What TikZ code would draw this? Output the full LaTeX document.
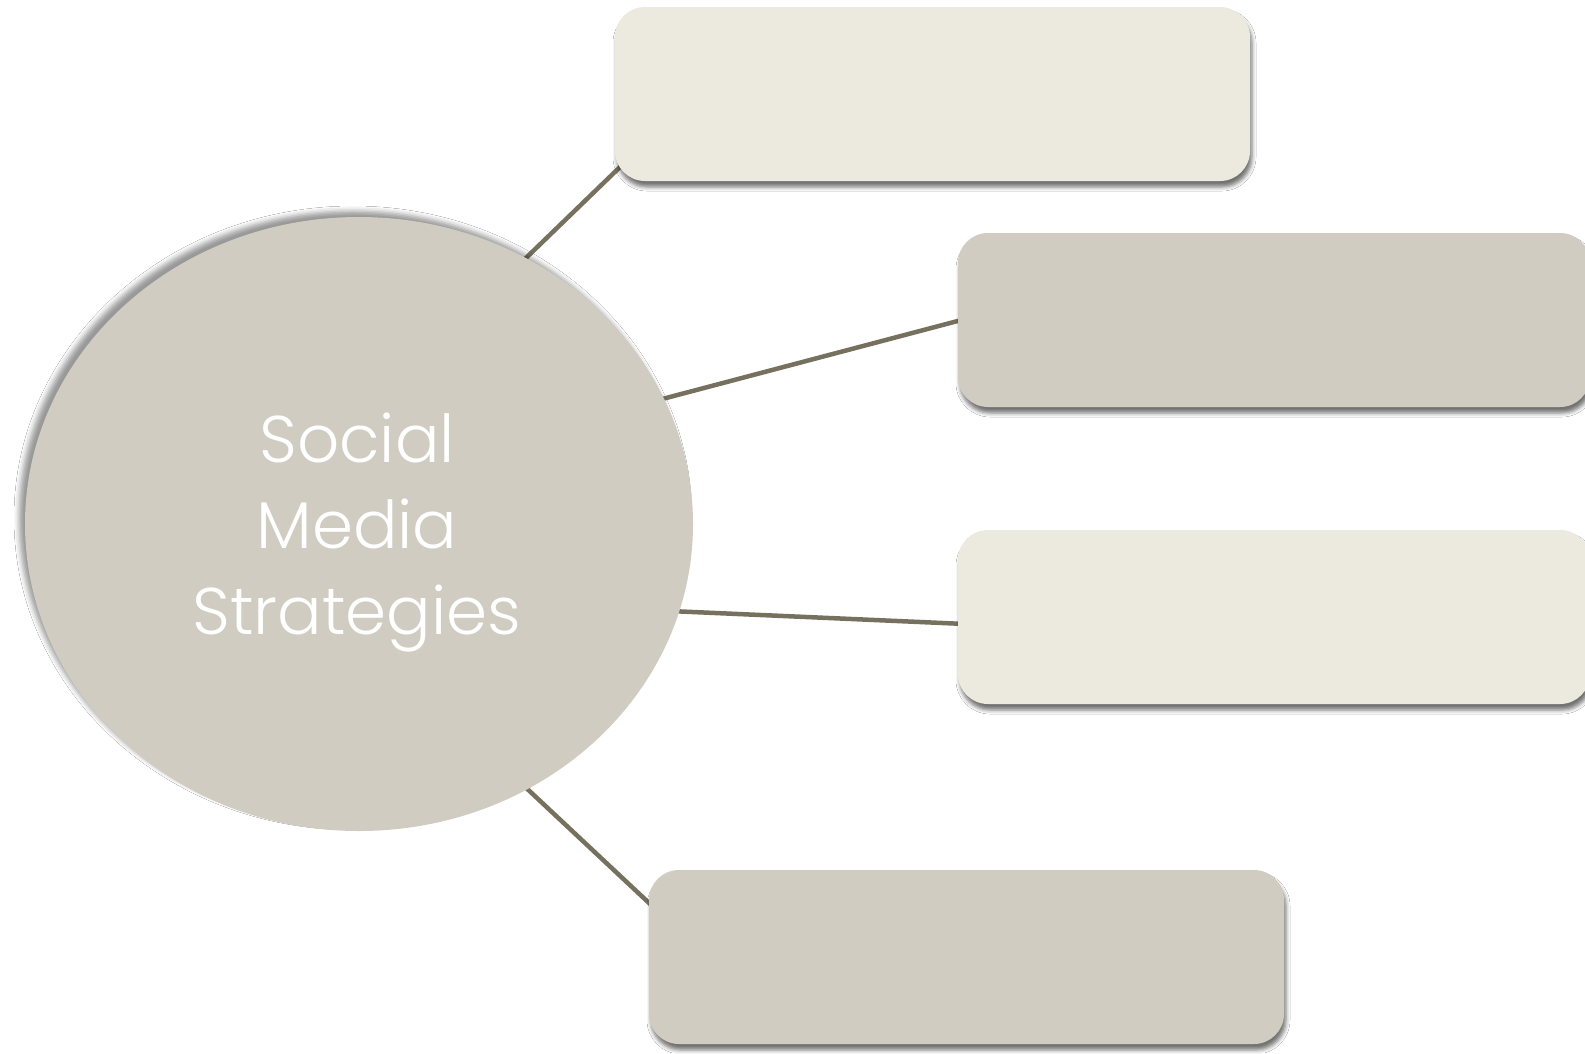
\documentclass[tikz,border=0pt]{standalone}
\usepackage{fontspec}
\setmainfont{Poppins}[UprightFont = * Light]
\usetikzlibrary{shapes.geometric,shadows.blur}
\definecolor{lightbox}{HTML}{ECEADF}
\definecolor{darkbox}{HTML}{D0CCC1}
\definecolor{linkcol}{HTML}{76715E}
\tikzset{
  card/.style={rectangle, rounded corners=30pt, minimum width=#1, minimum height=174pt, inner sep=0pt,
    blur shadow={shadow xshift=2pt, shadow yshift=-6pt, shadow blur radius=4pt, shadow opacity=55}},
  link/.style={draw=linkcol, line width=4.5pt},
  hubstyle/.style={ellipse, fill=darkbox, minimum width=668pt, minimum height=614pt, inner sep=0pt,
    blur shadow={shadow xshift=-6pt, shadow yshift=6pt, shadow blur radius=5pt, shadow opacity=40}},
  hubtext/.style={text=white, align=center, font=\fontsize{66}{86}\selectfont}
}
\begin{document}
\begin{tikzpicture}[x=1pt,y=-1pt]
\useasboundingbox[fill=white] (0,0) rectangle (1585,1053);
% connector end points, hidden under the shapes drawn afterwards
\coordinate (s1) at (497,286);  \coordinate (e1) at (651,137);
\coordinate (s2) at (632,407);  \coordinate (e2) at (988,313);
\coordinate (s3) at (647,610);  \coordinate (e3) at (988,625);
\coordinate (s4) at (490,754);  \coordinate (e4) at (680,932);
\draw[link] (s1) -- (e1);
\draw[link] (s2) -- (e2);
\draw[link] (s3) -- (e3);
\draw[link] (s4) -- (e4);
% boxes
\node[card=635pt, fill=lightbox] (b1) at (932.5,94) {};
\node[card=632pt, fill=darkbox] (b2) at (1274,320) {};
\node[card=632pt, fill=lightbox] (b3) at (1274,617) {};
\node[card=635pt, fill=darkbox] (b4) at (966.5,957) {};
% hub
\node[hubstyle] (hub) at (359,524) {};
\node[hubtext] (title) at (357,533) {Social\\Media\\Strategies};
\end{tikzpicture}
\end{document}
